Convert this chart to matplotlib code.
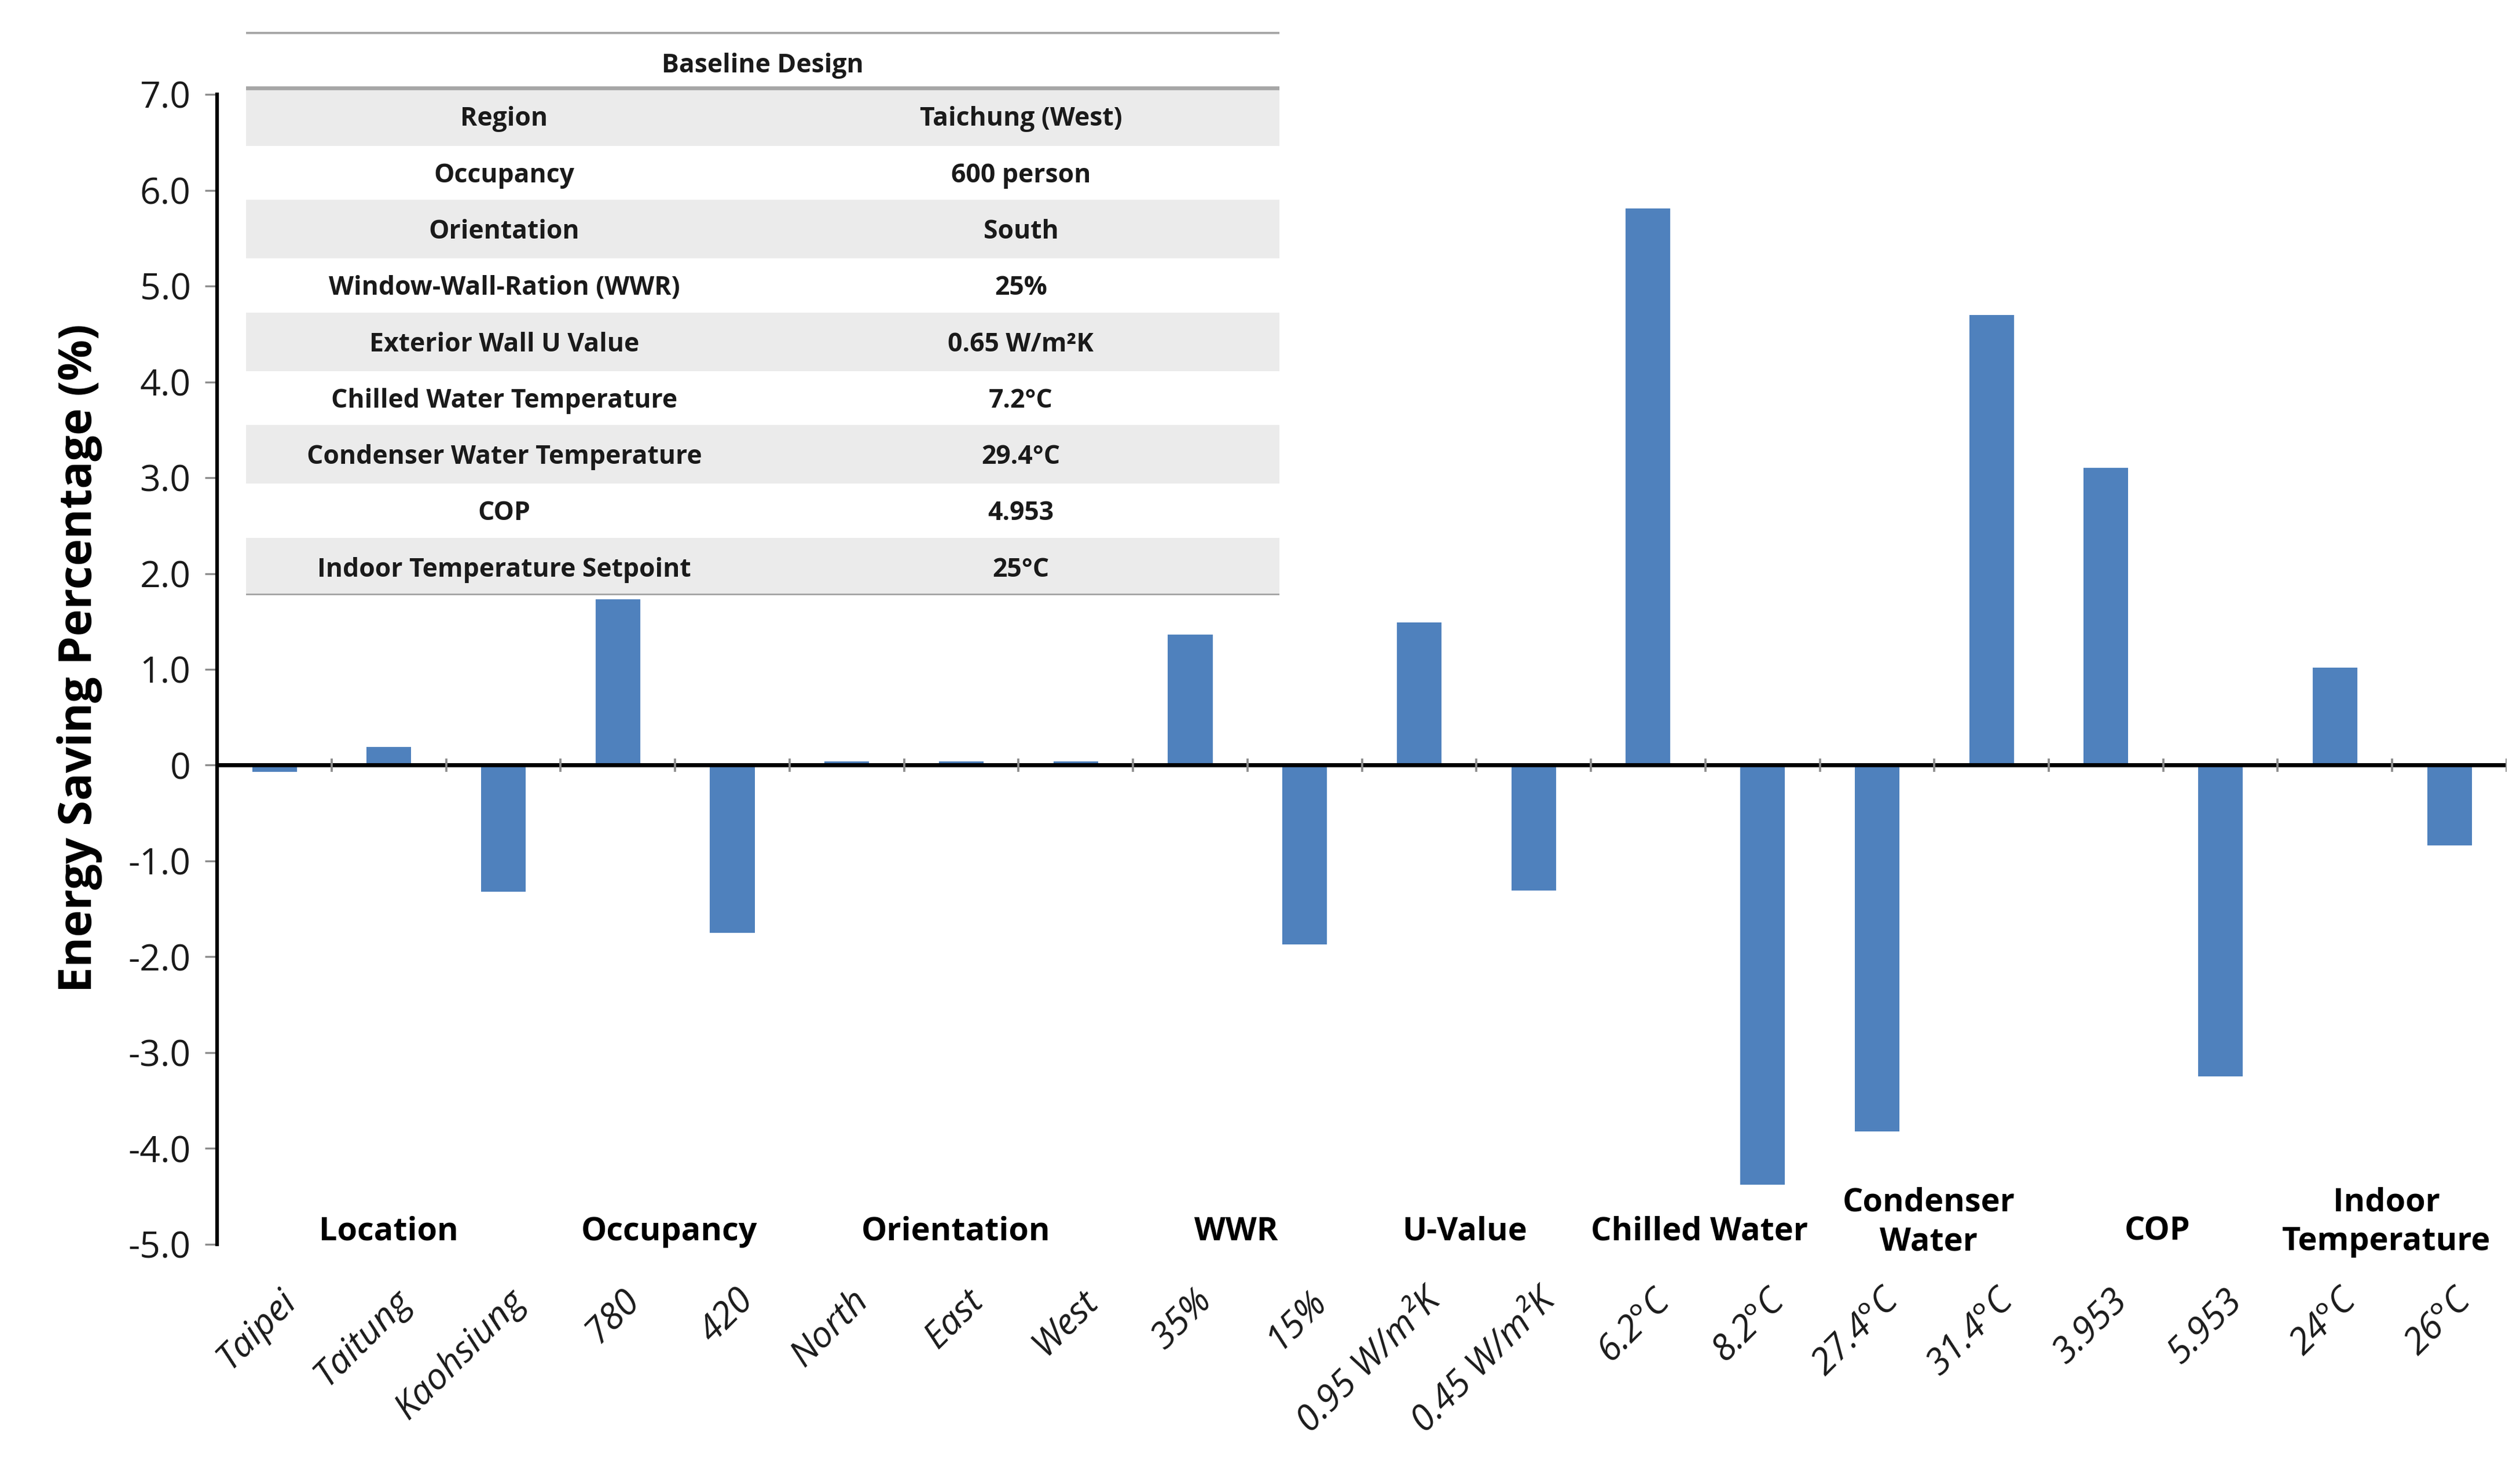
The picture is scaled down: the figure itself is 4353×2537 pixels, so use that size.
import matplotlib.pyplot as plt
import numpy as np
from matplotlib import font_manager as fm
import matplotlib.transforms as mtransforms

# pick a Calibri-like narrow face if available
names = {f.name for f in fm.fontManager.ttflist}
body_font = 'Liberation Sans Narrow' if 'Liberation Sans Narrow' in names else 'Open Sans'
plt.rcParams['font.family'] = [body_font, 'DejaVu Sans']

categories = ["Taipei", "Taitung", "Kaohsiung", "780", "420", "North", "East", "West",
              "35%", "15%", "0.95 W/m²K", "0.45 W/m²K", "6.2°C", "8.2°C",
              "27.4°C", "31.4°C", "3.953", "5.953", "24°C", "26°C"]
savings = [-0.07, 0.19, -1.32, 1.73, -1.75, 0.04, 0.04, 0.04,
           1.36, -1.87, 1.49, -1.31, 5.81, -4.38,
           -3.82, 4.70, 3.10, -3.25, 1.02, -0.84]

groups = ["Location", "Occupancy", "Orientation", "WWR", "U-Value", "Chilled Water",
          "Condenser\nWater", "COP", "Indoor\nTemperature"]
group_pos = [1.0, 3.45, 5.95, 8.4, 10.4, 12.45, 14.45, 16.45, 18.45]

table_params = ["Region", "Occupancy", "Orientation", "Window-Wall-Ration (WWR)",
                "Exterior Wall U Value", "Chilled Water Temperature",
                "Condenser Water Temperature", "COP", "Indoor Temperature Setpoint"]
table_values = ["Taichung (West)", "600 person", "South", "25%", "0.65 W/m²K",
                "7.2°C", "29.4°C", "4.953", "25°C"]

yticks = np.arange(-5, 8, 1)
ytick_labels = ["0" if v == 0 else f"{v:.1f}" for v in yticks]

bar_color = '#4F81BD'
text_color = '#1a1a1a'

fig = plt.figure(figsize=(14.51, 8.4567), dpi=300)
ax = fig.add_axes([0.0862, 0.153, 0.9085, 0.7827])

x = np.arange(len(categories))
ax.bar(x, savings, width=0.39, color=bar_color, zorder=2)
ax.axhline(0, color='black', linewidth=1.7, zorder=3)
ax.vlines(np.arange(0.5, len(categories), 1.0), -0.07, 0.07, color='#8c8c8c',
          linewidth=0.9, zorder=4)

ax.set_xlim(-0.5, len(categories) - 0.5)
ax.set_ylim(-5, 7)
ax.set_yticks(yticks)
ax.set_yticklabels(ytick_labels, fontsize=15, color=text_color)
ax.tick_params(axis='y', direction='out', length=5, width=0.8, color='#8c8c8c', pad=6)

ax.set_xticks(x)
ax.set_xticklabels(categories, rotation=45, ha='right', rotation_mode='anchor',
                   fontsize=15, style='italic', color=text_color)
ax.tick_params(axis='x', length=0, pad=16)
offset = mtransforms.ScaledTranslation(0.02, 0, fig.dpi_scale_trans)
for lbl in ax.get_xticklabels():
    lbl.set_transform(lbl.get_transform() + offset)

for s in ['top', 'right', 'bottom']:
    ax.spines[s].set_visible(False)
ax.spines['left'].set_linewidth(1.5)

ax.set_ylabel("Energy Saving Percentage (%)", fontsize=19, fontweight='bold',
              family=['Open Sans', 'DejaVu Sans'])
ax.yaxis.set_label_coords(-0.050, 0.51)

for name, pos in zip(groups, group_pos):
    yy = -4.87 if '\n' not in name else -4.77
    ax.text(pos, yy, name, ha='center', va='center', fontsize=13.4,
            fontweight='bold', color='black', linespacing=1.3)

# baseline design table
tax = fig.add_axes([0.0976, 0.5948, 0.410, 0.3835])
tax.set_xlim(0, 1)
nrows = len(table_params) + 1
tax.set_ylim(nrows, 0)
tax.axis('off')
for i, (p, v) in enumerate(zip(table_params, table_values)):
    r = i + 1
    if i % 2 == 0:
        tax.axhspan(r, r + 1, color='#EBEBEB', zorder=0)
    tax.text(0.25, r + 0.55, p, ha='center', va='center', fontsize=10.7,
             fontweight='bold', color=text_color)
    tax.text(0.75, r + 0.55, v, ha='center', va='center', fontsize=10.7,
             fontweight='bold', color=text_color)
tax.text(0.5, 0.6, "Baseline Design", ha='center', va='center', fontsize=10.7,
         fontweight='bold', color=text_color)
for yl in [0, 1, nrows]:
    tax.axhline(yl, color='#A6A6A6', linewidth=1.6, zorder=1)

fig.savefig('out.png', dpi=300)
